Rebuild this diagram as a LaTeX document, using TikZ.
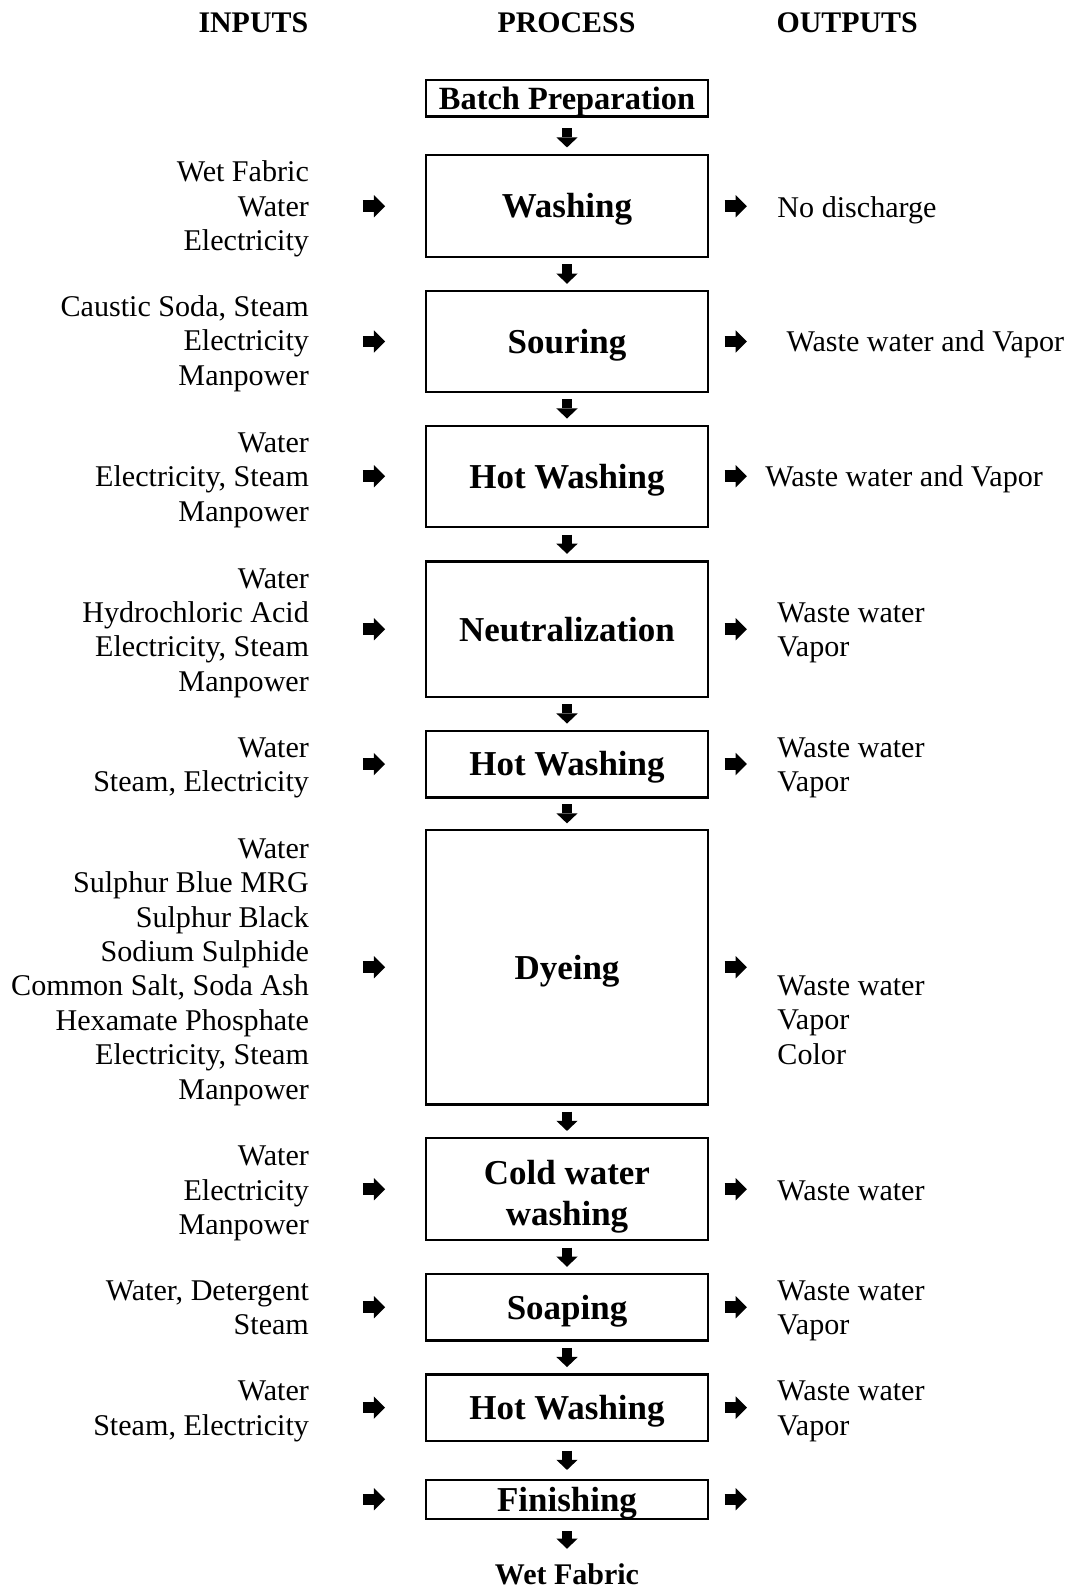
\documentclass[tikz,border=0pt]{standalone}
\usepackage{fontspec}
\setmainfont{Liberation Serif}
\usetikzlibrary{arrows.meta}
\begin{document}
\begin{tikzpicture}[x=1pt,y=-1pt,
  txt/.style={font=\fontsize{29.7}{34}\selectfont, inner sep=0pt, yshift=-3.5pt},
  intext/.style={txt, align=right, anchor=east},
  outtext/.style={txt, align=left, anchor=west},
  head/.style={font=\fontsize{29.5}{34}\selectfont\bfseries, inner sep=0pt, anchor=base},
  stepbox/.style={draw, line width=2.4pt, minimum width=278.6pt, inner sep=0pt,
    font=\fontsize{34.5}{39.7}\selectfont\bfseries, align=center,
    text height=23.6pt, text depth=0.4pt},
  blockarrow/.style={line width=11.5pt,
    -{Triangle[length=11pt,width=22pt,line width=0pt]}},
  downarrow/.style={line width=10.5pt,
    -{Triangle[length=10pt,width=21pt,line width=0pt]}},
  down/.style={downarrow, shorten <=#1, shorten >=#1},
  inarrow/.style={blockarrow, shorten <=53pt, shorten >=39pt},
  outarrow/.style={blockarrow, shorten <=15pt, shorten >=#1},
  outarrow/.default=30pt,
]
\useasboundingbox (0,0) rectangle (1062,1568);

% column headings
\node[head] (hin)  at (250,32) {INPUTS};
\node[head] (hpro) at (559,32) {PROCESS};
\node[head] (hout) at (836,32) {OUTPUTS};

% process steps
\node[stepbox, minimum height=35.6pt, font=\fontsize{32}{36}\selectfont\bfseries,
  text height=21.9pt, text depth=0.3pt]
  (batch) at (559.5,97) {Batch Preparation};
\node[stepbox, minimum height=100.6pt] (wash) at (559.5,203.5) {Washing};
\node[stepbox, minimum height=99.6pt]  (sour) at (559.5,337)   {Souring};
\node[stepbox, minimum height=99.6pt]  (hwa)  at (559.5,470)   {Hot Washing};
\node[stepbox, minimum height=133.6pt] (neut) at (559.5,621)   {Neutralization};
\node[stepbox, minimum height=65.6pt]  (hwb)  at (559.5,754)   {Hot Washing};
\node[stepbox, minimum height=270.6pt] (dye)  at (559.5,954.5) {Dyeing};
\node[stepbox, minimum height=100.6pt, text height=71.4pt, text depth=0.4pt]
  (cold) at (559.5,1173.5) {Cold water\\washing};
\node[stepbox, minimum height=65.6pt]  (soap) at (559.5,1290)  {Soaping};
\node[stepbox, minimum height=65.6pt]  (hwc)  at (559.5,1389)  {Hot Washing};
\node[stepbox, minimum height=38.6pt]  (fin)  at (559.5,1479.5) {Finishing};
\node[inner sep=0pt, anchor=base, font=\fontsize{29.6}{34}\selectfont\bfseries]
  (wet) at (559.5,1564) {Wet Fabric};

% inputs
\node[intext] (in1) at (305,203) {\strut Wet Fabric\\\strut Water\\\strut Electricity};
\node[intext] (in2) at (305,336) {\strut Caustic Soda, Steam\\\strut Electricity\\\strut Manpower};
\node[intext] (in3) at (305,470) {\strut Water\\\strut Electricity, Steam\\\strut Manpower};
\node[intext] (in4) at (305,621) {\strut Water\\\strut Hydrochloric Acid\\\strut Electricity, Steam\\\strut Manpower};
\node[intext] (in5) at (305,754) {\strut Water\\\strut Steam, Electricity};
\node[intext] (in6) at (305,955.5) {\strut Water\\\strut Sulphur Blue MRG\\\strut Sulphur Black\\\strut Sodium Sulphide\\\strut Common Salt, Soda Ash\\\strut Hexamate Phosphate\\\strut Electricity, Steam\\\strut Manpower};
\node[intext] (in7) at (305,1174) {\strut Water\\\strut Electricity\\\strut Manpower};
\node[intext] (in8) at (305,1290) {\strut Water, Detergent\\\strut Steam};
\node[intext] (in9) at (305,1389) {\strut Water\\\strut Steam, Electricity};
\coordinate (in10) at (305,1479.5);

% outputs
\node[outtext] (out1) at (767,204)  {\strut No discharge};
\node[outtext] (out2) at (776,337)  {\strut Waste water and Vapor};
\node[outtext] (out3) at (755,470)  {\strut Waste water and Vapor};
\node[outtext] (out4) at (767,621)  {\strut Waste water\\\strut Vapor};
\node[outtext] (out5) at (767,754)  {\strut Waste water\\\strut Vapor};
\node[outtext] (out6) at (767,1006) {\strut Waste water\\\strut Vapor\\\strut Color};
\node[outtext] (out7) at (767,1174) {\strut Waste water};
\node[outtext] (out8) at (767,1290) {\strut Waste water\\\strut Vapor};
\node[outtext] (out9) at (767,1389) {\strut Waste water\\\strut Vapor};
\coordinate (out10) at (767,1479.5);

% flow between steps
\draw[downarrow, shorten <=10.5pt, shorten >=6.5pt] (batch.south) -- (wash.north);
\draw[down=6pt]   (wash.south) -- (sour.north);
\draw[down=6pt]   (sour.south) -- (hwa.north);
\draw[down=6.5pt] (hwa.south) -- (neut.north);
\draw[down=6pt]   (neut.south) -- (hwb.north);
\draw[down=5.5pt] (hwb.south) -- (dye.north);
\draw[down=6pt]   (dye.south) -- (cold.north);
\draw[down=6pt]   (cold.south) -- (soap.north);
\draw[down=6pt]   (soap.south) -- (hwc.north);
\draw[down=8.5pt] (hwc.south) -- (fin.north);
\draw[downarrow, shorten <=11pt, shorten >=15pt] (fin.south) -- (wet.north);

% inputs into each step
\draw[inarrow] (in1.east |- wash.west) -- (wash.west);
\draw[inarrow] (in2.east |- sour.west) -- (sour.west);
\draw[inarrow] (in3.east |- hwa.west) -- (hwa.west);
\draw[inarrow] (in4.east |- neut.west) -- (neut.west);
\draw[inarrow] (in5.east |- hwb.west) -- (hwb.west);
\draw[inarrow] (in6.east |- dye.west) -- (dye.west);
\draw[inarrow] (in7.east |- cold.west) -- (cold.west);
\draw[inarrow] (in8.east |- soap.west) -- (soap.west);
\draw[inarrow] (in9.east |- hwc.west) -- (hwc.west);
\draw[inarrow] (in10) -- (fin.west);

% outputs from each step
\draw[outarrow]      (wash.east) -- (wash.east -| out1.west);
\draw[outarrow=39pt] (sour.east) -- (sour.east -| out2.west);
\draw[outarrow=18pt] (hwa.east) -- (hwa.east -| out3.west);
\draw[outarrow]      (neut.east) -- (neut.east -| out4.west);
\draw[outarrow]      (hwb.east) -- (hwb.east -| out5.west);
\draw[outarrow]      (dye.east) -- (dye.east -| out6.west);
\draw[outarrow]      (cold.east) -- (cold.east -| out7.west);
\draw[outarrow]      (soap.east) -- (soap.east -| out8.west);
\draw[outarrow]      (hwc.east) -- (hwc.east -| out9.west);
\draw[outarrow]      (fin.east) -- (out10);
\end{tikzpicture}
\end{document}
